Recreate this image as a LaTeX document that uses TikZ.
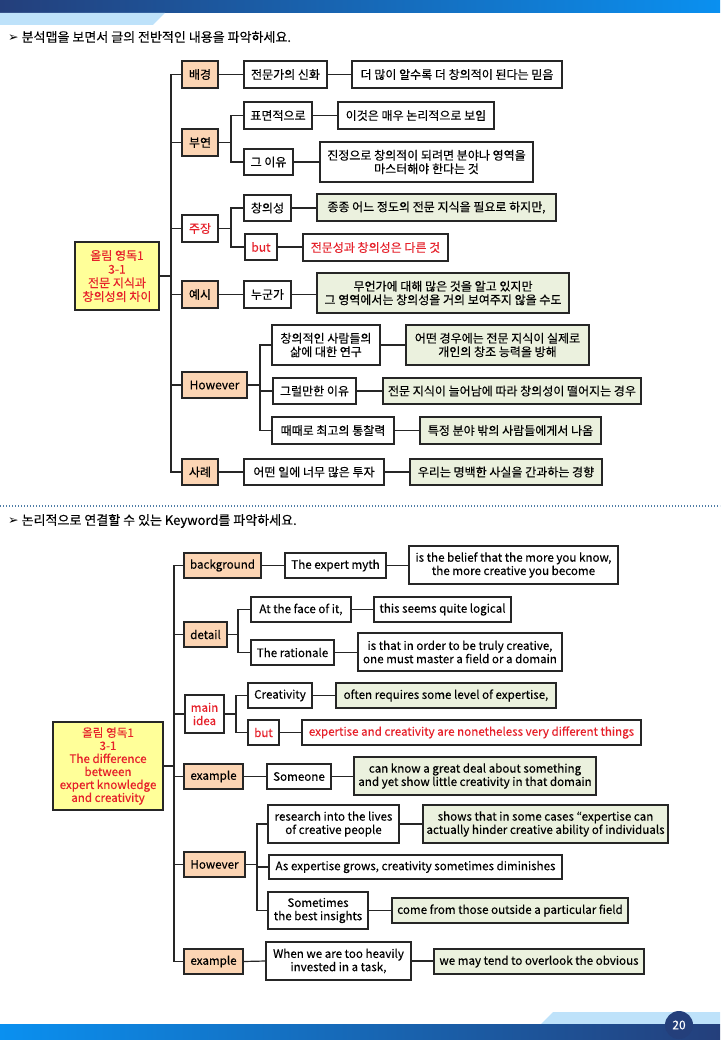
\documentclass[tikz,border=0pt]{standalone}
\usepackage{fontspec}
\setmainfont{Noto Sans CJK KR}[FakeBold=0.25]
\newfontfamily\dejavu{DejaVu Sans}
\definecolor{navyA}{HTML}{243F7B}
\definecolor{blueB}{HTML}{0A90F0}
\definecolor{tabC}{HTML}{BEE2FA}
\definecolor{orangeF}{HTML}{FCD5B4}
\definecolor{greenF}{HTML}{EBF1DE}
\definecolor{yellowF}{HTML}{FFFF99}
\definecolor{redT}{HTML}{E6202A}
\definecolor{lineC}{HTML}{262626}
\definecolor{dotC}{HTML}{4F7DA6}
\tikzset{
 bx/.style={draw=lineC, line width=1.1pt, inner sep=0pt, align=center, font=\fontsize{12}{13.5}\selectfont},
 obox/.style={bx, fill=orangeF},
 wbox/.style={bx, fill=white},
 gbox/.style={bx, fill=greenF},
 ybox/.style={bx, fill=yellowF, text=redT, font=\fontsize{12}{13.7}\selectfont},
 rbox/.style={bx, fill=white, text=redT},
 en/.style={font=\fontsize{11.6}{13.3}\selectfont},
 conn/.style={draw=lineC, line width=1.2pt},
 rootconn/.style={draw=lineC, line width=2pt},
 head/.style={anchor=west, inner sep=0pt, font=\fontsize{13}{15}\selectfont},
}
\newcommand\mkbox[7]{\node[#1, minimum width={(#5)-(#3)}, minimum height={(#6)-(#4)}] (#2) at ({((#3)+(#5))/2},{((#4)+(#6))/2}) {#7};}
\begin{document}
\begin{tikzpicture}[x=1pt,y=-1pt]
\useasboundingbox (0,0) rectangle (720,1040);
% header / footer
\shade[left color=navyA, right color=blueB] (0,0) rectangle (720,13);
\fill[tabC] (0,13) -- (165,13) -- (153,25) -- (0,25) -- cycle;
\fill[tabC] (553,1012) -- (720,1012) -- (720,1024) -- (541,1024) -- cycle;
\shade[left color=blueB, right color=navyA] (0,1024) rectangle (720,1040);
\node[circle, fill=navyA, minimum size=28pt, inner sep=0pt, text=white, font=\fontsize{12}{14}\selectfont] (pg) at (679,1025) {20};
\draw[dotC, line width=1.3pt, dash pattern=on 1.3pt off 1.7pt] (0,506) -- (720,506);
\node[head] (h1) at (8,37) {{\dejavu\fontsize{12.5}{13}\selectfont ➢}\hspace{3pt}분석맵을 보면서 글의 전반적인 내용을 파악하세요.};
\node[head] (h2) at (8,521) {{\dejavu\fontsize{12.5}{13}\selectfont ➢}\hspace{3pt}논리적으로 연결할 수 있는 Keyword를 파악하세요.};

% ===== top diagram =====
\mkbox{ybox}{r1}{75}{242}{159}{310}{올림 영독1\\3-1\\전문 지식과\\창의성의 차이}
\mkbox{obox}{a1}{182}{61}{218}{88}{배경}
\mkbox{obox}{a2}{182}{129}{218}{156}{부연}
\mkbox{rbox}{a3}{182}{215}{218}{242}{주장}
\mkbox{obox}{a4}{182}{281}{218}{308}{예시}
\mkbox{obox}{a5}{182}{372}{247}{398}{However}
\mkbox{obox}{a6}{182}{459}{218}{485}{사례}

\mkbox{wbox}{b1}{244}{61}{327}{88}{전문가의 신화}
\mkbox{wbox}{b2}{244}{102}{312}{129}{표면적으로}
\mkbox{wbox}{b3}{244}{149}{293}{175}{그 이유}
\mkbox{wbox}{b4}{244}{195}{291}{221}{창의성}
\mkbox{rbox}{b5}{245}{234}{277}{260}{but}
\mkbox{wbox}{b6}{244}{281}{291}{308}{누군가}
\mkbox{wbox}{b7}{272}{325}{380}{365}{창의적인 사람들의\\삶에 대한 연구}
\mkbox{wbox}{b8}{273}{378}{356}{404}{그럴만한 이유}
\mkbox{wbox}{b9}{272}{417}{394}{444}{때때로 최고의 통찰력}
\mkbox{wbox}{b10}{244}{459}{384}{485}{어떤 일에 너무 많은 투자}

\mkbox{wbox}{c1}{352}{61}{562}{88}{더 많이 알수록 더 창의적이 된다는 믿음}
\mkbox{wbox}{c2}{338}{102}{494}{129}{이것은 매우 논리적으로 보임}
\mkbox{wbox}{c3}{320}{142}{533}{182}{진정으로 창의적이 되려면 분야나 영역을\\마스터해야 한다는 것}
\mkbox{gbox}{c4}{317}{194}{556}{221}{종종 어느 정도의 전문 지식을 필요로 하지만,}
\mkbox{rbox}{c5}{303}{234}{448}{261}{전문성과 창의성은 다른 것}
\mkbox{gbox}{c6}{317}{273}{569}{313}{무언가에 대해 많은 것을 알고 있지만\\그 영역에서는 창의성을 거의 보여주지 않을 수도}
\mkbox{gbox}{c7}{406}{325}{589}{365}{어떤 경우에는 전문 지식이 실제로\\개인의 창조 능력을 방해}
\mkbox{gbox}{c8}{383}{378}{641}{404}{전문 지식이 늘어남에 따라 창의성이 떨어지는 경우}
\mkbox{gbox}{c9}{420}{417}{601}{444}{특정 분야 밖의 사람들에게서 나옴}
\mkbox{gbox}{c10}{410}{459}{602}{485}{우리는 명백한 사실을 간과하는 경향}

\coordinate (T1) at (171,0);
\coordinate (S1) at (231,0);
\coordinate (S2) at (260,0);
\draw[conn] (a1.west) -- (a1.west -| T1) -- (a6.west -| T1) -- (a6.west);
\foreach \n in {a2,a3,a4,a5} \draw[conn] (\n.west) -- (\n.west -| T1);
\draw[rootconn] (r1.east) -- (r1.east -| T1);
\draw[conn] (a1.east) -- (b1.west);
\draw[conn] (b2.west) -- (b2.west -| S1) -- (b3.west -| S1) -- (b3.west);
\draw[conn] (a2.east) -- (a2.east -| S1);
\draw[conn] (b4.west) -- (b4.west -| S1) -- (b5.west -| S1) -- (b5.west);
\draw[conn] (a3.east) -- (a3.east -| S1);
\draw[conn] (a4.east) -- (b6.west);
\draw[conn] (b7.west) -- (b7.west -| S2) -- (b9.west -| S2) -- (b9.west);
\draw[conn] (b8.west) -- (b8.west -| S2);
\draw[conn] (a5.east) -- (a5.east -| S2);
\draw[conn] (a6.east) -- (b10.west);
\foreach \s/\t in {b1/c1,b2/c2,b3/c3,b4/c4,b5/c5,b6/c6,b7/c7,b8/c8,b9/c9,b10/c10}
  \draw[conn] (\s.east) -- (\s.east -| \t.west);

% ===== bottom diagram =====
\mkbox{ybox,font=\fontsize{11.6}{13}\selectfont}{r2}{53}{722}{163}{810}{올림 영독1\\3-1\\The difference\\between\\expert knowledge\\and creativity}
\mkbox{obox,en}{d1}{184}{553}{261}{578}{background}
\mkbox{obox,en}{d2}{184}{622}{227}{647}{detail}
\mkbox{rbox,en}{d3}{185}{695}{224}{733}{main\\idea}
\mkbox{obox,en}{d4}{184}{764}{243}{789}{example}
\mkbox{obox,en}{d5}{184}{852}{245}{877}{However}
\mkbox{obox,en}{d6}{184}{949}{243}{974}{example}

\mkbox{wbox,en}{e1}{285}{553}{386}{578}{The expert myth}
\mkbox{wbox,en}{e2}{251}{597}{351}{622}{At the face of it,}
\mkbox{wbox,en}{e3}{251}{640}{334}{665}{The rationale}
\mkbox{wbox,en}{e4}{248}{683}{312}{708}{Creativity}
\mkbox{rbox,en}{e5}{248}{720}{279}{745}{but}
\mkbox{wbox,en}{e6}{267}{764}{331}{789}{Someone}
\mkbox{wbox,en}{e7}{268}{805}{399}{843}{research into the lives\\of creative people}
\mkbox{wbox,en}{e8}{269}{855}{562}{879}{As expertise grows, creativity sometimes diminishes}
\mkbox{wbox,en}{e9}{268}{892}{368}{929}{Sometimes\\the best insights}
\mkbox{wbox,en}{e10}{266}{942}{411}{980}{When we are too heavily\\invested in a task,}

\mkbox{wbox,en}{f1}{409}{546}{618}{584}{is the belief that the more you know,\\the more creative you become}
\mkbox{wbox,en}{f2}{374}{597}{511}{622}{this seems quite logical}
\mkbox{wbox,en}{f3}{358}{633}{562}{671}{is that in order to be truly creative,\\one must master a field or a domain}
\mkbox{gbox,en}{f4}{336}{683}{556}{708}{often requires some level of expertise,}
\mkbox{rbox,en}{f5}{302}{720}{641}{745}{expertise and creativity are nonetheless very different things}
\mkbox{gbox,en}{f6}{354}{757}{596}{795}{can know a great deal about something\\and yet show little creativity in that domain}
\mkbox{gbox,en}{f7}{423}{805}{668}{843}{shows that in some cases “expertise can\\actually hinder creative ability of individuals}
\mkbox{gbox,en}{f9}{392}{898}{628}{923}{come from those outside a particular field}
\mkbox{gbox,en}{f10}{434}{949}{644}{974}{we may tend to overlook the obvious}

\coordinate (T2) at (174,0);
\coordinate (U1) at (238,0);
\coordinate (U2) at (236,0);
\coordinate (U3) at (257,0);
\draw[conn] (d1.west) -- (d1.west -| T2) -- (d6.west -| T2) -- (d6.west);
\foreach \n in {d2,d3,d4,d5} \draw[conn] (\n.west) -- (\n.west -| T2);
\draw[rootconn] (r2.east) -- (r2.east -| T2);
\draw[conn] (d1.east) -- (e1.west);
\draw[conn] (e2.west) -- (e2.west -| U1) -- (e3.west -| U1) -- (e3.west);
\draw[conn] (d2.east) -- (d2.east -| U1);
\draw[conn] (e4.west) -- (e4.west -| U2) -- (e5.west -| U2) -- (e5.west);
\draw[conn] (d3.east) -- (d3.east -| U2);
\draw[conn] (d4.east) -- (e6.west);
\draw[conn] (e7.west) -- (e7.west -| U3) -- (e9.west -| U3) -- (e9.west);
\draw[conn] (e8.west) -- (e8.west -| U3);
\draw[conn] (d5.east) -- (d5.east -| U3);
\draw[conn] (d6.east) -- (e10.west);
\foreach \s/\t in {e1/f1,e2/f2,e3/f3,e4/f4,e5/f5,e6/f6,e7/f7,e9/f9,e10/f10}
  \draw[conn] (\s.east) -- (\s.east -| \t.west);
\end{tikzpicture}
\end{document}
